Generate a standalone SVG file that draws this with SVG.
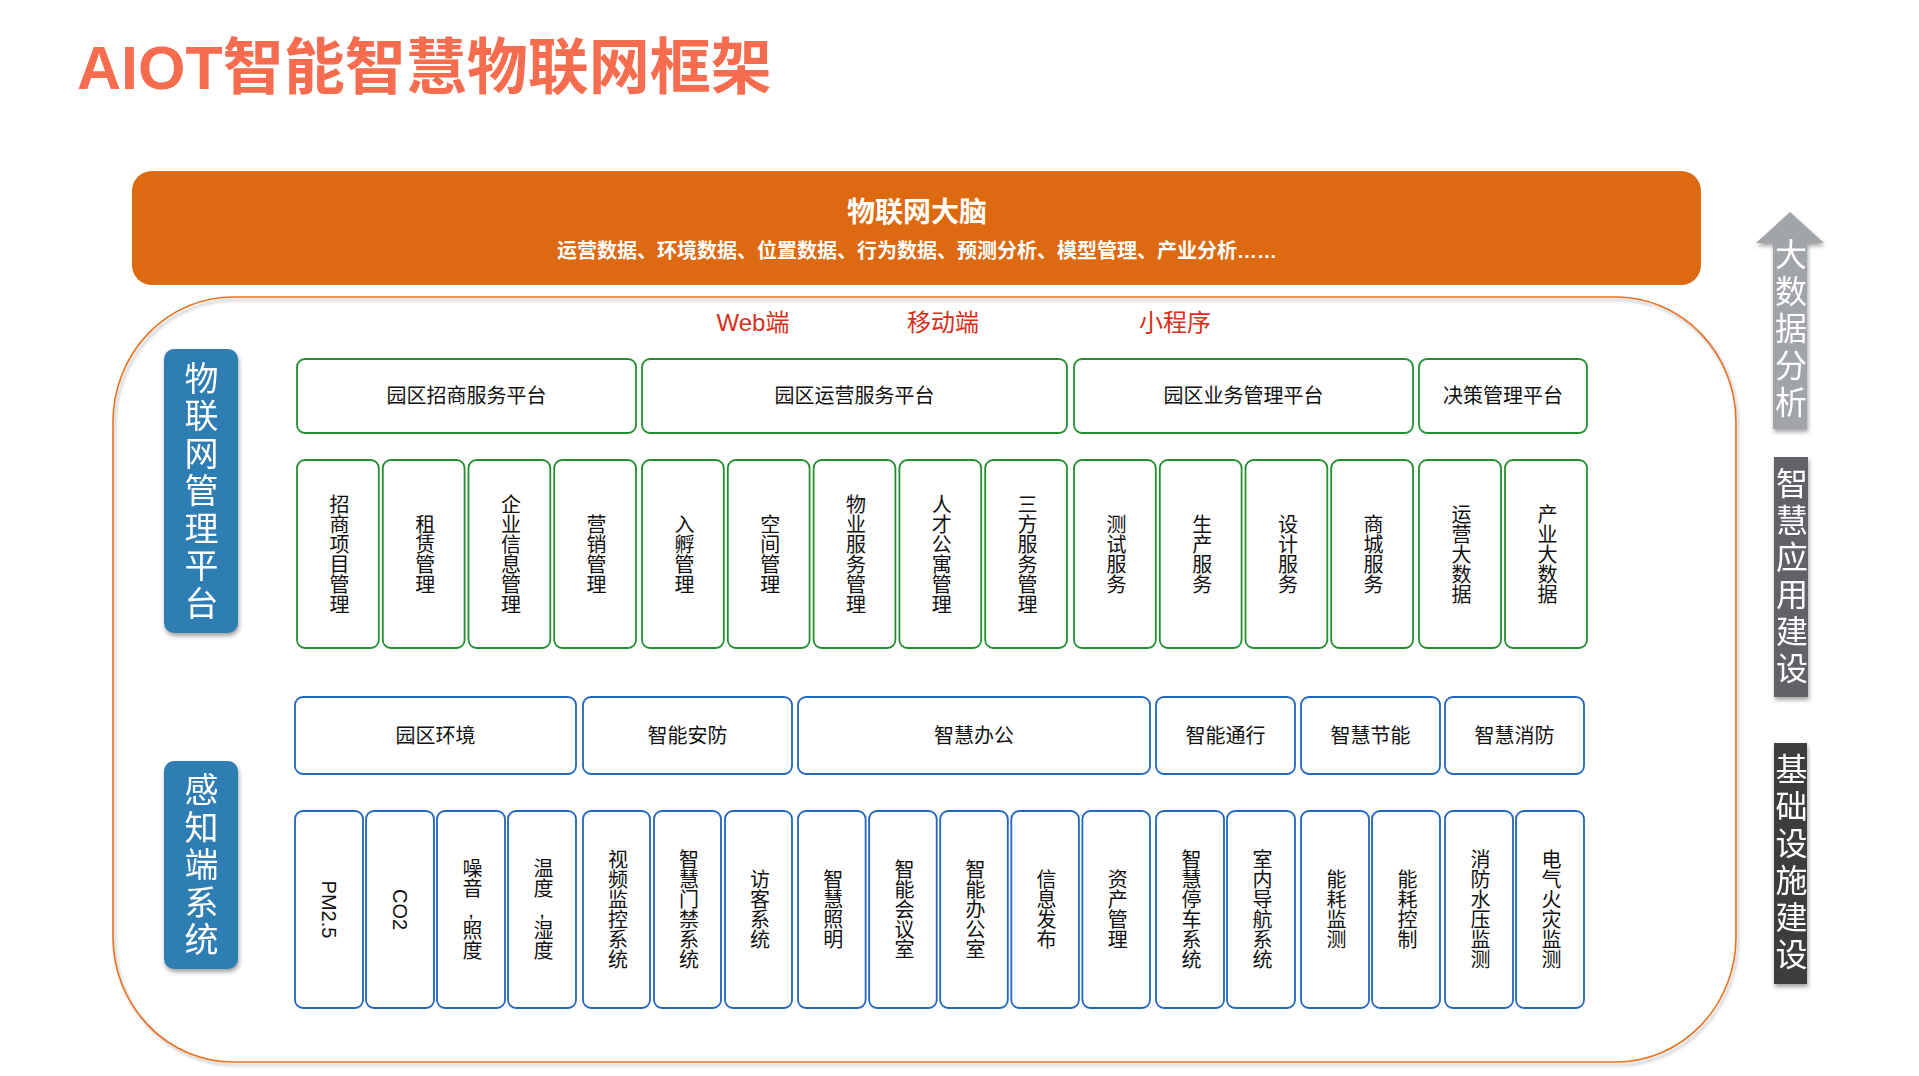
<svg xmlns="http://www.w3.org/2000/svg" width="1919" height="1076" viewBox="0 0 1919 1076">
<defs>
<style>
text{font-family:"Liberation Sans","Noto Sans CJK SC",sans-serif;}
.title{font-size:61px;font-weight:bold;fill:#F66C4E;}
.bt{font-size:28px;font-weight:bold;fill:#fff;text-anchor:middle;}
.bs{font-size:20px;font-weight:bold;fill:#fff;text-anchor:middle;}
.red{font-size:24px;fill:#D4301A;text-anchor:middle;}
.g{fill:#fff;stroke:#23902F;stroke-width:1.8;}
.b{fill:#fff;stroke:#2266BE;stroke-width:1.8;}
.h{font-size:20px;fill:#111;text-anchor:middle;dominant-baseline:central;}
.v{font-size:20px;fill:#111;text-anchor:middle;writing-mode:vertical-rl;text-orientation:upright;}
.vs{font-size:20px;fill:#111;text-anchor:middle;writing-mode:vertical-rl;text-orientation:mixed;}
.lab{font-size:34px;fill:#fff;text-anchor:middle;writing-mode:vertical-rl;text-orientation:upright;letter-spacing:3.5px;}
.rl{font-size:32px;fill:#fff;text-anchor:middle;writing-mode:vertical-rl;text-orientation:upright;letter-spacing:5px;}
</style>
<filter id="sh" x="-10%" y="-10%" width="130%" height="130%"><feDropShadow dx="1" dy="3" stdDeviation="2" flood-color="#555" flood-opacity="0.55"/></filter>
<filter id="osh" x="-5%" y="-5%" width="110%" height="110%"><feDropShadow dx="2" dy="3" stdDeviation="1.5" flood-color="#888" flood-opacity="0.6"/></filter>
</defs>
<rect width="1919" height="1076" fill="#fff"/>

<g id="title"><text class="title" x="77" y="89">AIOT智能智慧物联网框架</text></g>

<g id="brain">
<rect x="132" y="171" width="1569" height="114" rx="20" fill="#DD6A10"/>
<text class="bt" x="917" y="222">物联网大脑</text>
<text class="bs" x="917" y="258">运营数据、环境数据、位置数据、行为数据、预测分析、模型管理、产业分析……</text>
</g>

<g id="frame"><rect x="113" y="297" width="1623" height="765" rx="120" ry="125" fill="none" stroke="#E8731F" stroke-width="1.6" filter="url(#osh)"/></g>

<g id="channels">
<text class="red" x="753" y="331">Web端</text>
<text class="red" x="943" y="331">移动端</text>
<text class="red" x="1175" y="331">小程序</text>
</g>

<g id="label-iot" filter="url(#sh)">
<rect x="164" y="349" width="74" height="284" rx="10" fill="#2F7DB3"/>
<text class="lab" x="199" y="492">物联网管理平台</text>
</g>
<g id="label-sense" filter="url(#sh)">
<rect x="164" y="761" width="74" height="208" rx="10" fill="#2F7DB3"/>
<text class="lab" x="199" y="866">感知端系统</text>
</g>

<g id="platforms">
<g id="p1"><rect class="g" x="297" y="359" width="339" height="74" rx="8"/><text class="h" x="466.5" y="396">园区招商服务平台</text></g>
<g id="p2"><rect class="g" x="642" y="359" width="425" height="74" rx="8"/><text class="h" x="854.5" y="396">园区运营服务平台</text></g>
<g id="p3"><rect class="g" x="1074" y="359" width="339" height="74" rx="8"/><text class="h" x="1243.5" y="396">园区业务管理平台</text></g>
<g id="p4"><rect class="g" x="1419" y="359" width="168" height="74" rx="8"/><text class="h" x="1503" y="396">决策管理平台</text></g>
</g>

<g id="apps">
<g id="a1"><rect class="g" x="297" y="460" width="81.8" height="188" rx="8"/><text class="v" x="337.9" y="554">招商项目管理</text></g>
<g id="a2"><rect class="g" x="382.8" y="460" width="81.8" height="188" rx="8"/><text class="v" x="423.7" y="554">租赁管理</text></g>
<g id="a3"><rect class="g" x="468.5" y="460" width="81.8" height="188" rx="8"/><text class="v" x="509.4" y="554">企业信息管理</text></g>
<g id="a4"><rect class="g" x="554.2" y="460" width="81.8" height="188" rx="8"/><text class="v" x="595.1" y="554">营销管理</text></g>
<g id="a5"><rect class="g" x="642" y="460" width="81.8" height="188" rx="8"/><text class="v" x="682.9" y="554">入孵管理</text></g>
<g id="a6"><rect class="g" x="727.8" y="460" width="81.8" height="188" rx="8"/><text class="v" x="768.7" y="554">空间管理</text></g>
<g id="a7"><rect class="g" x="813.6" y="460" width="81.8" height="188" rx="8"/><text class="v" x="854.5" y="554">物业服务管理</text></g>
<g id="a8"><rect class="g" x="899.4" y="460" width="81.8" height="188" rx="8"/><text class="v" x="940.3" y="554">人才公寓管理</text></g>
<g id="a9"><rect class="g" x="985.2" y="460" width="81.8" height="188" rx="8"/><text class="v" x="1026.1" y="554">三方服务管理</text></g>
<g id="a10"><rect class="g" x="1074" y="460" width="81.8" height="188" rx="8"/><text class="v" x="1114.9" y="554">测试服务</text></g>
<g id="a11"><rect class="g" x="1159.8" y="460" width="81.8" height="188" rx="8"/><text class="v" x="1200.7" y="554">生产服务</text></g>
<g id="a12"><rect class="g" x="1245.5" y="460" width="81.8" height="188" rx="8"/><text class="v" x="1286.4" y="554">设计服务</text></g>
<g id="a13"><rect class="g" x="1331.2" y="460" width="81.8" height="188" rx="8"/><text class="v" x="1372.1" y="554">商城服务</text></g>
<g id="a14"><rect class="g" x="1419" y="460" width="82" height="188" rx="8"/><text class="v" x="1460" y="554">运营大数据</text></g>
<g id="a15"><rect class="g" x="1505" y="460" width="82" height="188" rx="8"/><text class="v" x="1546" y="554">产业大数据</text></g>
</g>

<g id="categories">
<g id="c1"><rect class="b" x="295" y="697" width="281" height="77" rx="8"/><text class="h" x="435.5" y="735.5">园区环境</text></g>
<g id="c2"><rect class="b" x="583" y="697" width="209" height="77" rx="8"/><text class="h" x="687.5" y="735.5">智能安防</text></g>
<g id="c3"><rect class="b" x="798" y="697" width="352" height="77" rx="8"/><text class="h" x="974" y="735.5">智慧办公</text></g>
<g id="c4"><rect class="b" x="1156" y="697" width="139" height="77" rx="8"/><text class="h" x="1225.5" y="735.5">智能通行</text></g>
<g id="c5"><rect class="b" x="1301" y="697" width="139" height="77" rx="8"/><text class="h" x="1370.5" y="735.5">智慧节能</text></g>
<g id="c6"><rect class="b" x="1445" y="697" width="139" height="77" rx="8"/><text class="h" x="1514.5" y="735.5">智慧消防</text></g>
</g>

<g id="sensors">
<g id="s1"><rect class="b" x="295" y="811" width="68" height="197" rx="8"/><text class="vs" x="329" y="909.5">PM2.5</text></g>
<g id="s2"><rect class="b" x="366" y="811" width="68" height="197" rx="8"/><text class="vs" x="400" y="909.5">CO2</text></g>
<g id="s3"><rect class="b" x="437" y="811" width="68" height="197" rx="8"/><text class="v" x="471" y="909.5">噪音,照度</text></g>
<g id="s4"><rect class="b" x="508" y="811" width="68" height="197" rx="8"/><text class="v" x="542" y="909.5">温度,湿度</text></g>
<g id="s5"><rect class="b" x="583" y="811" width="67" height="197" rx="8"/><text class="v" x="616.5" y="909.5">视频监控系统</text></g>
<g id="s6"><rect class="b" x="654" y="811" width="67" height="197" rx="8"/><text class="v" x="687.5" y="909.5">智慧门禁系统</text></g>
<g id="s7"><rect class="b" x="725" y="811" width="67" height="197" rx="8"/><text class="v" x="758.5" y="909.5">访客系统</text></g>
<g id="s8"><rect class="b" x="798" y="811" width="67.6" height="197" rx="8"/><text class="v" x="831.8" y="909.5">智慧照明</text></g>
<g id="s9"><rect class="b" x="869.1" y="811" width="67.6" height="197" rx="8"/><text class="v" x="902.9" y="909.5">智能会议室</text></g>
<g id="s10"><rect class="b" x="940.2" y="811" width="67.6" height="197" rx="8"/><text class="v" x="974" y="909.5">智能办公室</text></g>
<g id="s11"><rect class="b" x="1011.3" y="811" width="67.6" height="197" rx="8"/><text class="v" x="1045.1" y="909.5">信息发布</text></g>
<g id="s12"><rect class="b" x="1082.4" y="811" width="67.6" height="197" rx="8"/><text class="v" x="1116.2" y="909.5">资产管理</text></g>
<g id="s13"><rect class="b" x="1156" y="811" width="68" height="197" rx="8"/><text class="v" x="1190" y="909.5">智慧停车系统</text></g>
<g id="s14"><rect class="b" x="1227" y="811" width="68" height="197" rx="8"/><text class="v" x="1261" y="909.5">室内导航系统</text></g>
<g id="s15"><rect class="b" x="1301" y="811" width="68" height="197" rx="8"/><text class="v" x="1335" y="909.5">能耗监测</text></g>
<g id="s16"><rect class="b" x="1372" y="811" width="68" height="197" rx="8"/><text class="v" x="1406" y="909.5">能耗控制</text></g>
<g id="s17"><rect class="b" x="1445" y="811" width="68" height="197" rx="8"/><text class="v" x="1479" y="909.5">消防水压监测</text></g>
<g id="s18"><rect class="b" x="1516" y="811" width="68" height="197" rx="8"/><text class="v" x="1550" y="909.5">电气火灾监测</text></g>
</g>

<g id="side-bigdata" filter="url(#sh)">
<path d="M1790 212 L1824 243 L1807 243 L1807 429 L1773 429 L1773 243 L1756 243 Z" fill="#A1A5AA"/>
<text class="rl" x="1788" y="330">大数据分析</text>
</g>
<g id="side-app" filter="url(#sh)">
<rect x="1774" y="457" width="34" height="240" fill="#606267"/>
<text class="rl" x="1789" y="578">智慧应用建设</text>
</g>
<g id="side-infra" filter="url(#sh)">
<rect x="1774" y="743" width="33" height="241" fill="#3D3E41"/>
<text class="rl" x="1788.5" y="864">基础设施建设</text>
</g>
</svg>
